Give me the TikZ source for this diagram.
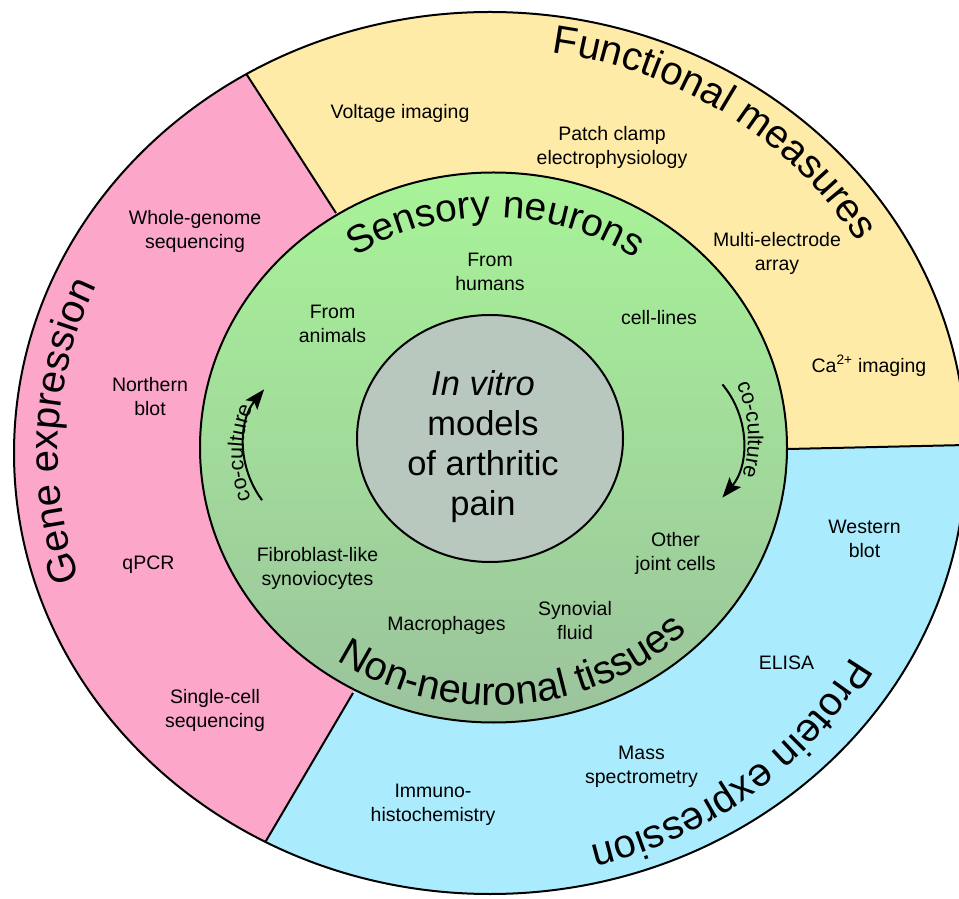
\documentclass[tikz,border=0pt]{standalone}
\usepackage{fontspec}
\setmainfont{Liberation Sans}
\usetikzlibrary{decorations.text,arrows.meta}

\definecolor{secpink}{RGB}{252,166,201}
\definecolor{secyellow}{RGB}{255,235,168}
\definecolor{secblue}{RGB}{170,236,254}
\definecolor{ringtop}{RGB}{168,243,152}
\definecolor{ringbot}{RGB}{155,195,157}
\definecolor{coregrey}{RGB}{184,200,190}

\newcommand\ringfont{\fontsize{40}{42}\selectfont}
\newcommand\innerringfont{\fontsize{39}{41}\selectfont}
\newcommand\itemfont{\fontsize{19.5}{24}\selectfont}
\newcommand\corefont{\fontsize{34.5}{40}\selectfont}
\newcommand\cofont{\fontsize{21.5}{24}\selectfont}

\begin{document}
\begin{tikzpicture}[x=1pt,y=1pt,
  item/.style={font=\itemfont, align=center, inner sep=0pt},
  rim/.style={line width=2pt},
  cycarrow/.style={line width=2pt, -{Stealth[length=20pt,width=15pt,inset=4pt]}},
  arclabel/.style={decorate, decoration={text along path, text align=center, text={|\ringfont|#1}}},
  innerlabel/.style={decorate, decoration={text along path, text align=center, text={|\innerringfont|#1}}},
  colabel/.style={decorate, decoration={text along path, text align=center, text={|\cofont|#1}}}]
\useasboundingbox (0,0) rectangle (959,898);
\clip (0,0) rectangle (959,898);

% centres of the three rings
\coordinate (O) at (490,445);
\coordinate (G) at (493.5,450.5);
\coordinate (K) at (490,459.5);

% sector boundaries
\coordinate (A1) at (336,685);
\coordinate (A3) at (69,1099);
\coordinate (B1) at (353,205);
\coordinate (B3) at (83,-254);
\coordinate (D1) at (788,449);
\coordinate (D3) at (1100,456);

% outer ring with its three sectors
\begin{scope}
  \clip (O) ellipse [x radius=476, y radius=441];
  \fill[secblue] (O) ellipse [x radius=476, y radius=441];
  \fill[secpink] (A1) -- (A3) -- (-100,1099) -- (-100,-260) -- (B3) -- (B1) -- cycle;
  \fill[secyellow] (A1) -- (A3) -- (1100,1099) -- (D3) -- (D1) -- cycle;
  \draw[rim] (A1) -- (A3);
  \draw[rim] (B1) -- (B3);
  \draw[rim] (D1) -- (D3);
\end{scope}
\draw[rim] (O) ellipse [x radius=476, y radius=441];

% middle ring and core
\draw[rim, top color=ringtop, bottom color=ringbot] (G) ellipse [x radius=293.5, y radius=275];
\draw[rim, fill=coregrey] (K) ellipse [x radius=133, y radius=123.5];

% curved headings of the outer ring
\path[arclabel={Functional measures}] (O) ++(125.4:430 and 405)
  arc [start angle=125.4, end angle=-14.6, x radius=430, y radius=405];
\path[arclabel={Gene expression}] (O) ++(247:432 and 405)
  arc [start angle=247, end angle=107, x radius=432, y radius=405];
\path[arclabel={Protein expression}] (O) ++(17.5:418 and 405)
  arc [start angle=17.5, end angle=-122.5, x radius=418, y radius=405];

% curved headings of the middle ring
\path[innerlabel={Sensory neurons}] (G) ++(159.5:248.5 and 230)
  arc [start angle=159.5, end angle=19.5, x radius=248.5, y radius=230];
\path[arclabel={Non-neuronal tissues}] (G) ++(-154.8:276.5 and 258)
  arc [start angle=-154.8, end angle=-14.8, x radius=276.5, y radius=258];

% co-culture arrows and labels
\coordinate (rc) at (655,457);
\coordinate (lc) at (334,452);
\coordinate (rt) at (618,460);
\coordinate (lt) at (370,443);
\draw[cycarrow] (rc) ++(40:88) arc [start angle=40, end angle=-40, radius=88];
\draw[cycarrow] (lc) ++(217:90) arc [start angle=217, end angle=141, radius=90];
\path[colabel={co-culture}] (rt) ++(43.6:130) arc [start angle=43.6, end angle=-36.4, radius=130];
\path[colabel={co-culture}] (lt) ++(219:127) arc [start angle=219, end angle=139, radius=127];

% core text
\node[font=\corefont, align=center, inner sep=0pt] (core) at (483,451.7)
  {\textit{In vitro}\\models\\of arthritic\\pain};

% functional measures
\node[item] (volt) at (400,785) {Voltage imaging};
\node[item] (patch) at (612,751) {Patch clamp\\electrophysiology};
\node[item] (mea) at (777,645) {Multi-electrode\\array};
\node[item] (calc) at (869,532) {Ca\textsuperscript{2+} imaging};

% gene expression
\node[item] (wgs) at (195,667) {Whole-genome\\sequencing};
\node[item] (north) at (150,501) {Northern\\blot};
\node[item] (qpcr) at (148.5,333) {qPCR};
\node[item] (scs) at (215,188) {Single-cell\\sequencing};

% protein expression
\node[item] (west) at (864.5,359) {Western\\blot};
\node[item] (elisa) at (786.5,235) {ELISA};
\node[item] (mass) at (641.5,131) {Mass\\spectrometry};
\node[item] (ihc) at (433,93) {Immuno-\\histochemistry};

% sensory neurons
\node[item] (hum) at (490,626) {From\\humans};
\node[item] (ani) at (332.5,574) {From\\animals};
\node[item] (cell) at (659,580.5) {cell-lines};

% non-neuronal tissues
\node[item] (fls) at (317.5,330) {Fibroblast-like\\synoviocytes};
\node[item] (mac) at (446.5,273) {Macrophages};
\node[item] (syn) at (575,277) {Synovial\\fluid};
\node[item] (oth) at (675.5,345) {Other\\joint cells};
\end{tikzpicture}
\end{document}
